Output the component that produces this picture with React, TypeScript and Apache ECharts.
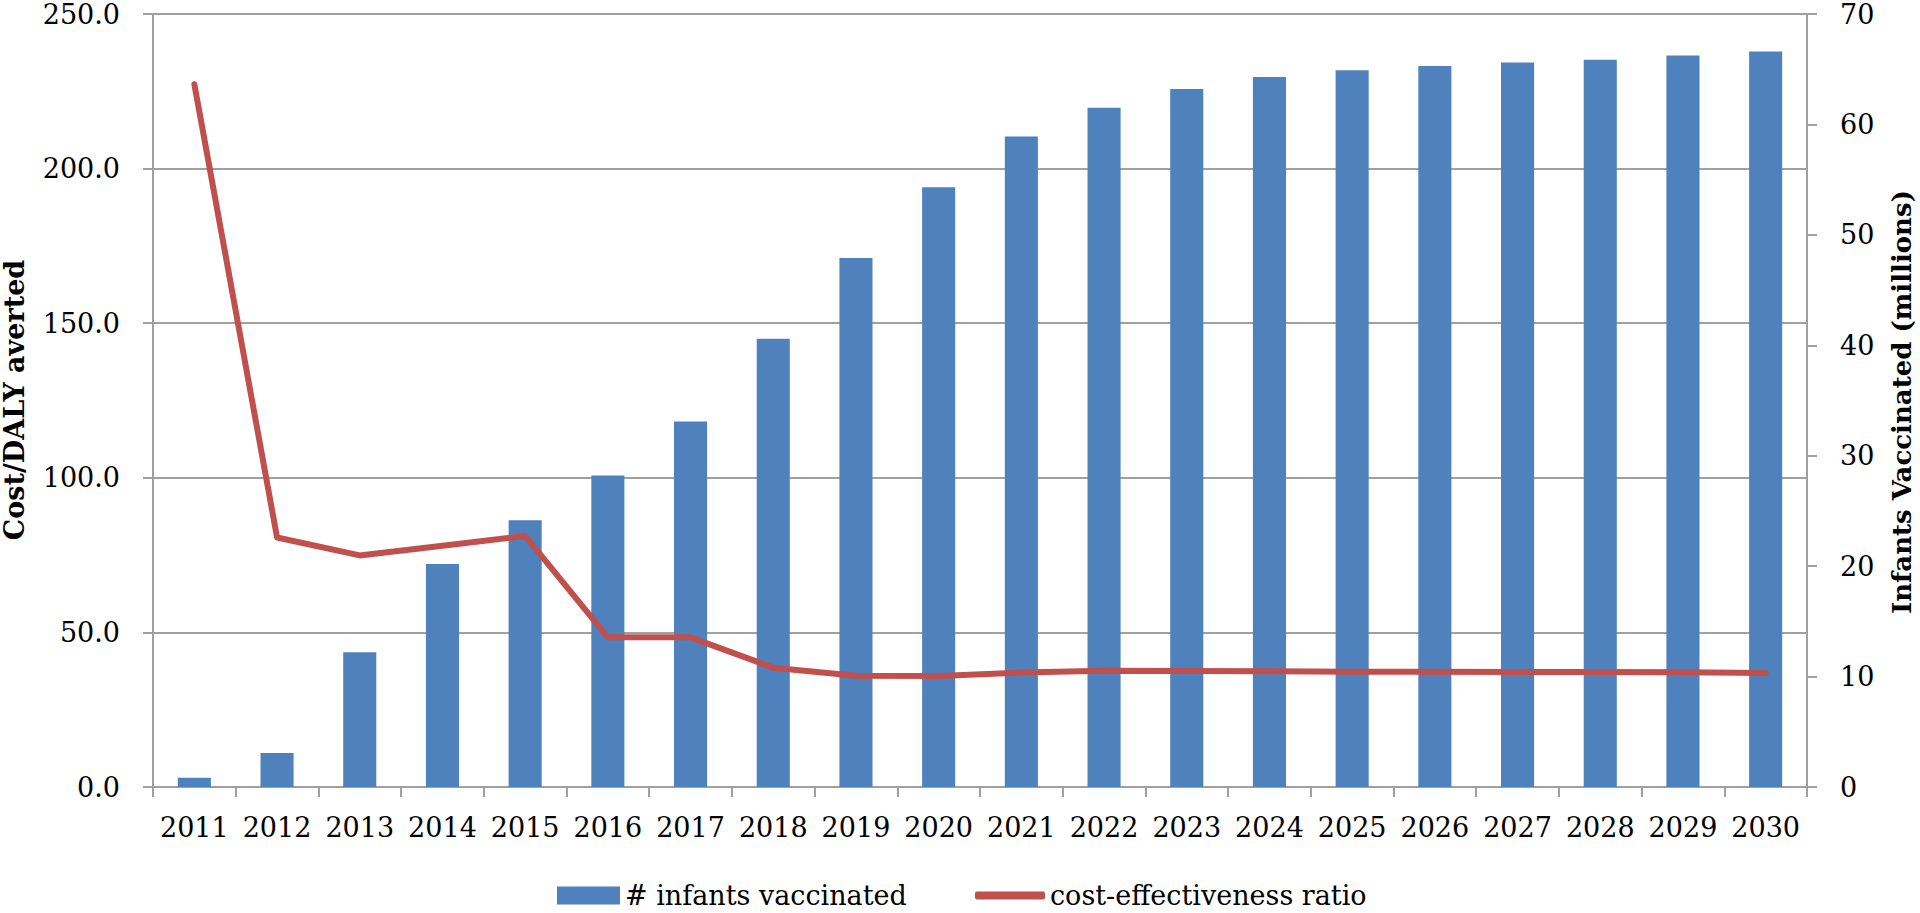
import React, { useEffect, useRef } from "react";
import * as echarts from "echarts";

const years = ["2011","2012","2013","2014","2015","2016","2017","2018","2019","2020","2021","2022","2023","2024","2025","2026","2027","2028","2029","2030"];
const infantsVaccinated = [0.84, 3.08, 12.2, 20.2, 24.15, 28.2, 33.1, 40.6, 47.9, 54.3, 58.9, 61.5, 63.2, 64.3, 64.9, 65.3, 65.6, 65.85, 66.25, 66.6];
const costEffectiveness = [227.3, 80.7, 74.9, 78.0, 81.2, 48.4, 48.4, 38.6, 36.0, 35.9, 37.0, 37.6, 37.5, 37.4, 37.3, 37.3, 37.2, 37.2, 37.1, 36.9];
const barName = "# infants vaccinated";
const lineName = "cost-effectiveness ratio";
const leftTitle = "Cost/DALY averted";
const rightTitle = "Infants Vaccinated (millions)";

const FONT = "'DejaVu Serif', serif";
const GRAY = "#A0A0A0";

export default function App() {
  const ref = useRef<HTMLDivElement>(null);
  useEffect(() => {
    if (!ref.current) return;
    const chart = echarts.init(ref.current, null, { renderer: "svg" });
    chart.setOption({
      animation: false,
      backgroundColor: "#fff",
      grid: { left: 153, right: 113, top: 14, bottom: 126, containLabel: false },
      legend: [
        {
          data: [{ name: barName, icon: "rect" }],
          left: 552,
          top: 877,
          itemWidth: 63,
          itemHeight: 18,
          textStyle: { fontFamily: FONT, fontSize: 27, color: "#000" },
        },
        {
          data: [{ name: lineName, icon: "roundRect" }],
          left: 970,
          top: 877,
          itemWidth: 70,
          itemHeight: 8,
          itemStyle: { borderWidth: 0 },
          textStyle: { fontFamily: FONT, fontSize: 27, color: "#000" },
        },
      ],
      xAxis: {
        type: "category",
        data: years,
        boundaryGap: true,
        axisLine: { show: true, lineStyle: { color: GRAY, width: 2 } },
        axisTick: { show: true, length: 10, lineStyle: { color: GRAY, width: 2 } },
        axisLabel: { fontFamily: FONT, fontSize: 27, color: "#000", margin: 27, interval: 0 },
        splitLine: { show: false },
      },
      yAxis: [
        {
          type: "value",
          min: 0,
          max: 250,
          interval: 50,
          position: "left",
          axisLine: { show: true, lineStyle: { color: GRAY, width: 2 } },
          axisTick: { show: true, length: 10, lineStyle: { color: GRAY, width: 2 } },
          axisLabel: {
            fontFamily: FONT,
            fontSize: 27,
            color: "#000",
            margin: 33,
            formatter: (v: number) => v.toFixed(1),
          },
          splitLine: { show: true, lineStyle: { color: GRAY, width: 2 } },
        },
        {
          type: "value",
          min: 0,
          max: 70,
          interval: 10,
          position: "right",
          axisLine: { show: true, lineStyle: { color: GRAY, width: 2 } },
          axisTick: { show: true, length: 10, lineStyle: { color: GRAY, width: 2 } },
          axisLabel: { fontFamily: FONT, fontSize: 27, color: "#000", margin: 33 },
          splitLine: { show: false },
        },
      ],
      graphic: [
        {
          type: "text",
          x: 14,
          y: 400,
          rotation: Math.PI / 2,
          style: {
            text: leftTitle,
            fontFamily: FONT,
            fontWeight: "bold",
            fontSize: 27,
            fill: "#000",
            textAlign: "center",
            textVerticalAlign: "middle",
          },
        },
        {
          type: "text",
          x: 1902,
          y: 402,
          rotation: Math.PI / 2,
          style: {
            text: rightTitle,
            fontFamily: FONT,
            fontWeight: "bold",
            fontSize: 26,
            fill: "#000",
            textAlign: "center",
            textVerticalAlign: "middle",
          },
        },
      ],
      series: [
        {
          name: barName,
          type: "bar",
          yAxisIndex: 1,
          data: infantsVaccinated,
          barWidth: "40%",
          itemStyle: { color: "#4F81BD" },
        },
        {
          name: lineName,
          type: "line",
          yAxisIndex: 0,
          data: costEffectiveness,
          symbol: "none",
          lineStyle: { color: "#C0504D", width: 6, cap: "round", join: "round" },
          itemStyle: { color: "#C0504D" },
          z: 5,
        },
      ],
    });
    return () => chart.dispose();
  }, []);
  return (
    <div
      ref={ref}
      style={{ position: "fixed", left: 0, top: 0, width: 1920, height: 913, background: "#fff" }}
    />
  );
}
